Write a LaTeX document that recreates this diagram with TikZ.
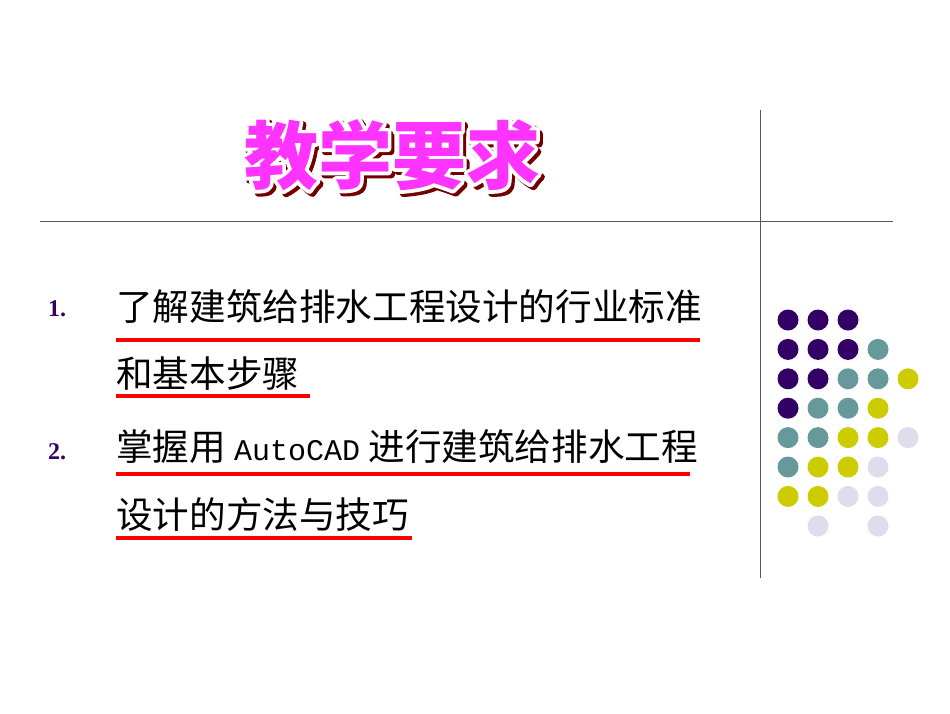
\documentclass[tikz,border=0pt]{standalone}
\usepackage{fontspec}
\newfontfamily\cjk{Noto Sans CJK SC}
\newfontfamily\mono{Liberation Mono}
\setmainfont{Liberation Serif}
\definecolor{dk}{HTML}{330066}
\definecolor{tl}{HTML}{669999}
\definecolor{yl}{HTML}{CCCC00}
\definecolor{lv}{HTML}{DDDDEE}
\definecolor{mg}{HTML}{FF33FF}
\tikzset{
  item/.style={anchor=west,inner sep=0pt,font=\cjk\fontsize{36.6}{36.6}\selectfont},
  num/.style={anchor=west,inner sep=0pt,font=\bfseries\fontsize{24}{24}\selectfont,text=dk},
  uline/.style={red,line width=3.5pt},
  rule/.style={gray!70!black,line width=0.8pt},
  dot/.style={circle,minimum size=21pt,inner sep=0pt},
  ttl/.style={font=\cjk\bfseries\fontsize{74}{74}\selectfont}
}
\begin{document}
\begin{tikzpicture}[x=1pt,y=-1pt]
\useasboundingbox[fill=white] (0,0) rectangle (950,713);
\draw[rule] (40,221) -- (893,221);
\draw[rule] (760,110) -- (760,578);
% title: shadow, white outline, magenta fill
\node[ttl,text=black!55!red] at (395,158) {\special{pdf:literal direct 2 Tr 7 w 1 j}教学要求\special{pdf:literal direct 0 Tr}};
\node[ttl,text=white] at (392,155) {\special{pdf:literal direct 1 1 1 RG 2 Tr 7 w 1 j}教学要求\special{pdf:literal direct 0 Tr}};
\node (title) [ttl,text=mg] at (392,155) {教学要求};
% items
\node (n1) [num] at (48,309) {1.};
\node (t1) [item] at (116,307) {了解建筑给排水工程设计的行业标准};
\node (t2) [item] at (116,374) {和基本步骤};
\node (n2) [num] at (48,452) {2.};
\node (t3) [item] at (116,447) {掌握用 {\mono\fontsize{30}{30}\selectfont AutoCAD} 进行建筑给排水工程};
\node (t4) [item] at (116,515) {设计的方法与技巧};
\draw[uline] (116,340) -- (700,340);
\draw[uline] (116,396) -- (310,396);
\draw[uline] (116,474) -- (690,474);
\draw[uline] (116,538) -- (412,538);
% dots
\foreach \r/\cols in {0/{dk,dk,dk},1/{dk,dk,dk,tl},2/{dk,dk,tl,tl,yl},3/{dk,tl,tl,yl},4/{tl,tl,yl,yl,lv},5/{tl,yl,yl,lv},6/{yl,yl,lv,lv}}
  \foreach \c [count=\i from 0] in \cols
    \node[dot,fill=\c] at (788+30*\i,320+29.4*\r) {};
\node[dot,fill=lv] at (818,526) {};
\node[dot,fill=lv] at (878,526) {};
\end{tikzpicture}
\end{document}
